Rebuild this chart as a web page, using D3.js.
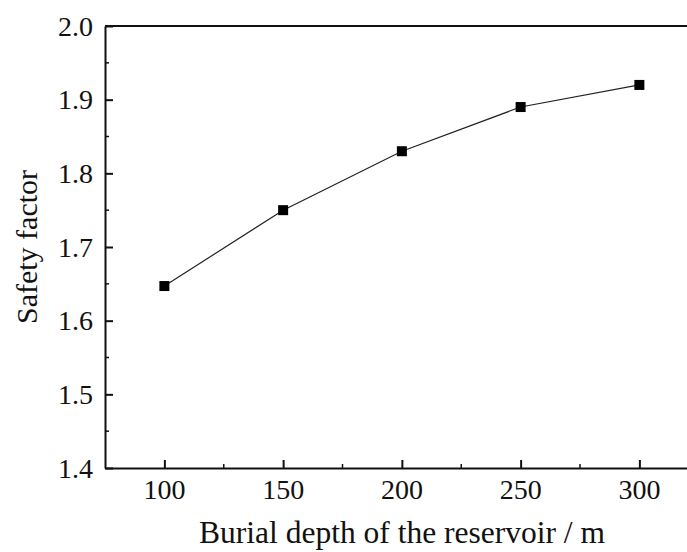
<!DOCTYPE html>
<html>
<head>
<meta charset="utf-8">
<script src="https://cdn.jsdelivr.net/npm/d3@7"></script>
<style>
  body { margin: 0; background: #fff; }
</style>
</head>
<body>
<div id="chart"></div>
<script>
const depths = [100, 150, 200, 250, 300];
const safetyFactor = [1.647, 1.75, 1.83, 1.89, 1.92];
const xTicks = [100, 150, 200, 250, 300];
const yTicks = [1.4, 1.5, 1.6, 1.7, 1.8, 1.9, 2.0];

const width = 687;
const height = 552;
const margin = { top: 26, left: 105, bottom: 84 };
const serif = '"Liberation Serif", "Times New Roman", serif';

const svg = d3.select('#chart')
  .append('svg')
  .attr('width', width)
  .attr('height', height);

const x = d3.scaleLinear()
  .domain([75, 325])
  .range([margin.left, margin.left + 2.375 * 250]);

const y = d3.scaleLinear()
  .domain([1.4, 2.0])
  .range([height - margin.bottom, margin.top]);

const plotRight = x(325);
const plotBottom = y(1.4);

// minor ticks
const xMinor = d3.range(125, 325, 50);
const yMinor = d3.range(1.45, 2.0, 0.1);

const xAxis = svg.append('g')
  .attr('transform', `translate(0, ${plotBottom})`)
  .call(d3.axisBottom(x).tickValues(xTicks).tickSizeInner(-8).tickSizeOuter(0).tickFormat(''));

const yAxis = svg.append('g')
  .attr('transform', `translate(${margin.left}, 0)`)
  .call(d3.axisLeft(y).tickValues(yTicks).tickSizeInner(-8).tickSizeOuter(0).tickFormat(''));

[xAxis, yAxis].forEach(a => {
  a.select('.domain').attr('stroke', '#111').attr('stroke-width', 2);
  a.selectAll('.tick line').attr('stroke', '#111').attr('stroke-width', 2);
});

// tick labels
svg.append('g').selectAll('text')
  .data(xTicks)
  .enter()
  .append('text')
  .attr('x', d => x(d))
  .attr('y', 499)
  .attr('text-anchor', 'middle')
  .attr('font-family', serif)
  .attr('font-size', 28)
  .attr('fill', '#111')
  .text(d3.format('d'));

svg.append('g').selectAll('text')
  .data(yTicks)
  .enter()
  .append('text')
  .attr('x', margin.left - 12)
  .attr('y', d => y(d) + 9.5)
  .attr('text-anchor', 'end')
  .attr('font-family', serif)
  .attr('font-size', 28)
  .attr('fill', '#111')
  .text(d3.format('.1f'));

svg.append('g').selectAll('line')
  .data(xMinor)
  .enter()
  .append('line')
  .attr('x1', d => x(d)).attr('x2', d => x(d))
  .attr('y1', plotBottom).attr('y2', plotBottom - 4)
  .attr('stroke', '#111').attr('stroke-width', 1.5);

svg.append('g').selectAll('line')
  .data(yMinor)
  .enter()
  .append('line')
  .attr('x1', margin.left).attr('x2', margin.left + 4)
  .attr('y1', d => y(d)).attr('y2', d => y(d))
  .attr('stroke', '#111').attr('stroke-width', 1.5);

// top and right frame
svg.append('path')
  .attr('d', `M${margin.left},${y(2.0)}H${plotRight}V${plotBottom}`)
  .attr('fill', 'none')
  .attr('stroke', '#111')
  .attr('stroke-width', 2);

const points = depths.map((d, i) => [d, safetyFactor[i]]);

svg.append('path')
  .datum(points)
  .attr('fill', 'none')
  .attr('stroke', '#222')
  .attr('stroke-width', 1.2)
  .attr('d', d3.line().x(d => x(d[0])).y(d => y(d[1])));

const s = 10;
svg.append('g').selectAll('rect')
  .data(points)
  .enter()
  .append('rect')
  .attr('x', d => x(d[0]) - s / 2)
  .attr('y', d => y(d[1]) - s / 2)
  .attr('width', s)
  .attr('height', s)
  .attr('fill', '#000');

svg.append('text')
  .attr('x', 402)
  .attr('y', 543)
  .attr('text-anchor', 'middle')
  .attr('font-family', serif)
  .attr('font-size', 31.5)
  .attr('fill', '#111')
  .text('Burial depth of the reservoir / m');

svg.append('text')
  .attr('transform', `translate(37, ${(margin.top + plotBottom) / 2}) rotate(-90)`)
  .attr('text-anchor', 'middle')
  .attr('font-family', serif)
  .attr('font-size', 30)
  .attr('fill', '#111')
  .text('Safety factor');
</script>
</body>
</html>
